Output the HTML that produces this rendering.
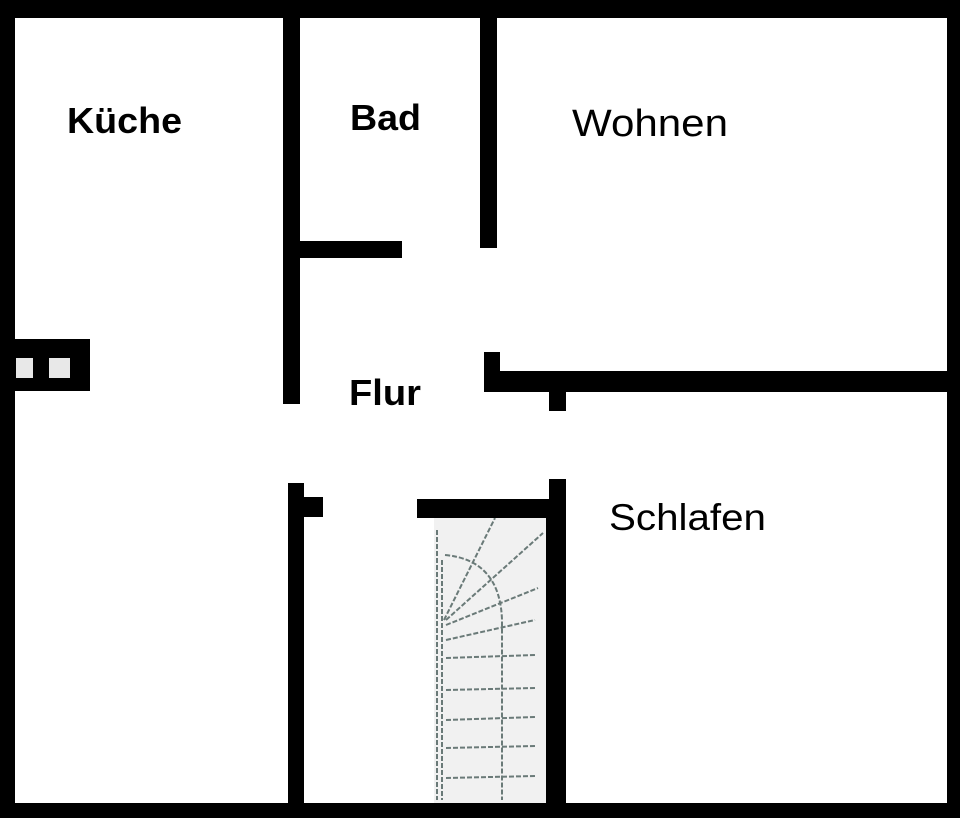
<!DOCTYPE html>
<html><head><meta charset="utf-8"><style>
html,body{margin:0;padding:0;background:#fff;}
svg{display:block;}
text{font-family:"Liberation Sans",sans-serif;fill:#000;}
</style></head><body>
<svg width="960" height="818" viewBox="0 0 960 818" xmlns="http://www.w3.org/2000/svg">
<rect x="0" y="0" width="960" height="818" fill="#fff"/>
<!-- stair area -->
<rect x="434" y="518" width="112" height="285" fill="#f1f1f1"/>
<g stroke="#6a7a78" stroke-width="2" fill="none" stroke-dasharray="5,2">
<line x1="437" y1="530" x2="437" y2="800"/>
<line x1="442" y1="560" x2="442" y2="800"/>
<path d="M445 555 Q500 560 502 620 L502 800"/>
<line x1="444" y1="620" x2="495" y2="518"/>
<line x1="446" y1="620" x2="543" y2="533"/>
<line x1="446" y1="625" x2="538" y2="588"/>
<line x1="446" y1="640" x2="535" y2="620"/>
<line x1="446" y1="658" x2="535" y2="655"/>
<line x1="446" y1="690" x2="535" y2="688"/>
<line x1="446" y1="720" x2="535" y2="717"/>
<line x1="446" y1="748" x2="535" y2="746"/>
<line x1="446" y1="778" x2="535" y2="776"/>
</g>
<g fill="#000">
<rect x="0" y="0" width="960" height="18"/>
<rect x="0" y="0" width="15" height="818"/>
<rect x="947" y="0" width="13" height="818"/>
<rect x="0" y="803" width="960" height="15"/>
<rect x="283" y="18" width="17" height="386"/>
<rect x="300" y="241" width="102" height="17"/>
<rect x="480" y="18" width="17" height="230"/>
<rect x="15" y="339" width="75" height="52"/>
<rect x="484" y="352" width="16" height="40"/>
<rect x="484" y="371" width="463" height="21"/>
<rect x="549" y="392" width="17" height="19"/>
<rect x="549" y="479" width="17" height="20"/>
<rect x="417" y="499" width="149" height="19"/>
<rect x="546" y="499" width="20" height="304"/>
<rect x="288" y="483" width="16" height="320"/>
<rect x="304" y="497" width="19" height="20"/>
</g>
<rect x="16" y="358" width="17" height="20" fill="#e8e8e8"/>
<rect x="49" y="358" width="21" height="20" fill="#e8e8e8"/>
<text x="67" y="133" font-size="36" font-weight="bold" textLength="115" lengthAdjust="spacingAndGlyphs">Küche</text>
<text x="350" y="130" font-size="36" font-weight="bold" textLength="71" lengthAdjust="spacingAndGlyphs">Bad</text>
<text x="572" y="136" font-size="38" textLength="156" lengthAdjust="spacingAndGlyphs">Wohnen</text>
<text x="349" y="405" font-size="36" font-weight="bold" textLength="72" lengthAdjust="spacingAndGlyphs">Flur</text>
<text x="609" y="530" font-size="37" textLength="157" lengthAdjust="spacingAndGlyphs">Schlafen</text>
</svg>
</body></html>
